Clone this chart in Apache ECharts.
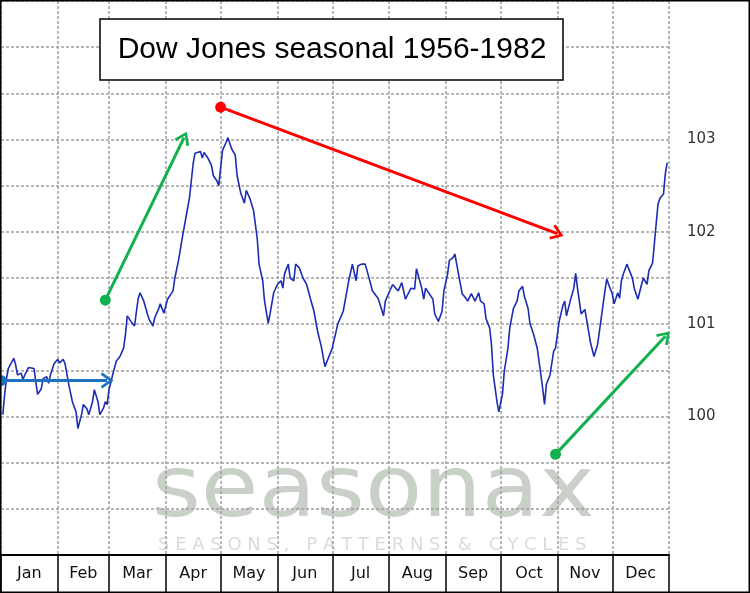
<!DOCTYPE html>
<html>
<head>
<meta charset="utf-8">
<script src="https://cdn.jsdelivr.net/npm/echarts@6/dist/echarts.min.js"></script>
<style>
  html, body { margin: 0; padding: 0; background: #fff; }
  #chart { width: 750px; height: 593px; }
</style>
</head>
<body>
<div id="chart"></div>
<script>
// month names and day-of-year boundaries
const months = ['Jan', 'Feb', 'Mar', 'Apr', 'May', 'Jun', 'Jul', 'Aug', 'Sep', 'Oct', 'Nov', 'Dec']
const monthStarts = [0, 31, 59, 90, 120, 151, 181, 212, 243, 273, 304, 334, 365]
const yLabels = [100, 101, 102, 103]

// seasonal curve (day of year, index value)
const days = [1, 2, 3, 4, 7, 8, 9, 11, 12, 13, 15, 16, 18, 19, 20, 22, 23, 25, 26, 27, 29, 31, 32, 34, 35, 37, 39, 41, 42, 44,
  45, 47, 48, 50, 51, 53, 54, 56, 57, 58, 59, 61, 63, 65, 67, 68, 69, 71, 73, 74, 75, 76, 78, 80, 81, 83, 84, 86, 87, 89,
  91, 94, 95, 97, 99, 101, 103, 105, 106, 107, 109, 110, 111, 113, 115, 116, 118, 119, 121, 123, 124, 126, 128, 129, 131, 133, 134, 136, 138, 140,
  141, 143, 144, 146, 147, 149, 151, 153, 154, 155, 157, 158, 160, 161, 163, 165, 167, 169, 171, 173, 175, 177, 181, 184, 187, 190, 192, 194, 195, 197,
  199, 200, 203, 206, 207, 209, 210, 212, 214, 217, 219, 221, 224, 226, 227, 230, 231, 232, 233, 236, 237, 239, 241, 242, 244, 245, 247, 248, 249, 250,
  252, 254, 255, 257, 259, 261, 262, 264, 265, 267, 268, 269, 271, 272, 274, 275, 277, 278, 280, 282, 283, 285, 286, 288, 289, 291, 293, 295, 296, 297,
  298, 300, 302, 303, 305, 307, 308, 309, 311, 313, 314, 315, 317, 319, 320, 322, 324, 325, 326, 328, 330, 331, 332, 334, 335, 337, 338, 339, 340, 342,
  343, 345, 346, 348, 350, 351, 353, 354, 356, 357, 358, 359, 360, 362, 363, 364]
const values = [100.02, 100.24, 100.41, 100.52, 100.63, 100.56, 100.45, 100.47, 100.40, 100.45, 100.53, 100.51, 100.52, 100.38, 100.24, 100.30, 100.41, 100.43, 100.36, 100.45, 100.57, 100.62, 100.58, 100.62, 100.57, 100.35, 100.16, 100.05, 99.87, 100.02,
  100.13, 100.08, 100.02, 100.16, 100.29, 100.16, 100.02, 100.09, 100.16, 100.13, 100.29, 100.45, 100.60, 100.65, 100.74, 100.89, 101.09, 101.03, 100.98, 101.14, 101.28, 101.34, 101.25, 101.11, 101.05, 100.98, 101.07, 101.16, 101.22, 101.12,
  101.27, 101.36, 101.50, 101.69, 101.93, 102.15, 102.37, 102.74, 102.85, 102.85, 102.87, 102.80, 102.86, 102.80, 102.72, 102.61, 102.55, 102.50, 102.88, 102.97, 103.02, 102.90, 102.83, 102.61, 102.42, 102.31, 102.45, 102.36, 102.23, 101.93,
  101.65, 101.47, 101.25, 101.01, 101.11, 101.34, 101.43, 101.47, 101.39, 101.55, 101.65, 101.50, 101.47, 101.65, 101.61, 101.50, 101.43, 101.28, 101.14, 100.92, 100.76, 100.54, 100.74, 101.00, 101.14, 101.47, 101.65, 101.47, 101.63, 101.65,
  101.65, 101.58, 101.36, 101.28, 101.22, 101.09, 101.25, 101.34, 101.43, 101.36, 101.45, 101.27, 101.39, 101.38, 101.60, 101.38, 101.27, 101.39, 101.38, 101.27, 101.11, 101.03, 101.14, 101.36, 101.54, 101.69, 101.72, 101.76, 101.65, 101.54,
  101.33, 101.28, 101.25, 101.33, 101.25, 101.34, 101.25, 101.22, 101.06, 100.96, 100.78, 100.45, 100.16, 100.05, 100.24, 100.49, 100.74, 100.96, 101.17, 101.25, 101.36, 101.41, 101.30, 101.17, 101.01, 100.89, 100.74, 100.45, 100.30, 100.13,
  100.35, 100.45, 100.71, 100.74, 101.03, 101.20, 101.25, 101.09, 101.25, 101.39, 101.55, 101.39, 101.11, 101.16, 101.05, 100.81, 100.65, 100.63, 100.78, 101.07, 101.36, 101.49, 101.43, 101.33, 101.22, 101.34, 101.28, 101.47, 101.54, 101.65,
  101.63, 101.50, 101.39, 101.27, 101.43, 101.50, 101.43, 101.58, 101.66, 101.87, 102.09, 102.30, 102.36, 102.41, 102.63, 102.75]

// annotation arrows: start [day, value], end [day, value], colour
const arrowStarts = [[0, 100.39], [57, 101.26], [120, 103.35], [303, 99.59]]
const arrowEnds = [[58, 100.39], [100, 103.02], [304, 101.98], [363, 100.87]]
const arrowColors = ['#1f72c0', '#12b04f', '#ff0000', '#12b04f']

const monthMids = months.map((m, i) => (monthStarts[i] + monthStarts[i + 1]) / 2)
const chevron = 'path://M-7,10 L0,0 L7,10 L5,11.5 L0,4 L-5,11.5 Z'

const chart = echarts.init(document.getElementById('chart'))

const option = {
  animation: false,
  backgroundColor: '#fff',
  grid: { left: 1, right: 81, top: 1, bottom: 38 },
  xAxis: {
    type: 'value',
    min: 0,
    max: 365,
    axisLine: { lineStyle: { color: '#000', width: 2 } },
    axisTick: {
      customValues: monthStarts,
      length: 37,
      lineStyle: { color: '#000', width: 1.5 },
    },
    axisLabel: {
      customValues: monthMids,
      formatter: (v) => months[monthMids.indexOf(v)] || '',
      margin: 11,
      color: '#111',
      fontSize: 16,
      fontFamily: 'DejaVu Sans',
    },
    splitLine: {
      show: true,
      lineStyle: { color: '#a0a0a0', width: 1.5, type: [3, 2] },
    },
  },
  yAxis: {
    type: 'value',
    position: 'right',
    min: 98.5,
    max: 104.5,
    interval: 0.5,
    axisLine: { show: false },
    axisTick: { show: false },
    axisLabel: {
      margin: 18,
      color: '#333',
      fontSize: 15,
      fontFamily: 'DejaVu Sans',
      formatter: (v) => (yLabels.indexOf(v) >= 0 ? String(v) : ''),
    },
    splitLine: {
      lineStyle: { color: '#a0a0a0', width: 1.5, type: [3, 2] },
    },
  },
  graphic: [
    {
      type: 'text',
      z: -10,
      x: 152,
      y: 494,
      scaleX: 0.83,
      scaleY: 0.76,
      style: {
        text: 'seasonax',
        fontSize: 113,
        fontFamily: 'DejaVu Sans',
        fill: '#c8d0c8',
        verticalAlign: 'middle',
      },
    },
    {
      type: 'text',
      z: -10,
      x: 158,
      y: 545,
      style: {
        text: 'S E A S O N S ,   P A T T E R N S   &   C Y C L E S',
        fontSize: 18,
        fontFamily: 'DejaVu Sans',
        fill: '#d8ddd8',
        verticalAlign: 'middle',
      },
    },
    {
      type: 'rect',
      z: 100,
      shape: { x: 100, y: 19, width: 463, height: 61 },
      style: { fill: '#fff', stroke: '#000', lineWidth: 1.5 },
    },
    {
      type: 'text',
      z: 101,
      x: 332,
      y: 50,
      style: {
        text: 'Dow Jones seasonal 1956-1982',
        fontSize: 30,
        fontFamily: 'Liberation Sans',
        fill: '#000',
        align: 'center',
        verticalAlign: 'middle',
      },
    },
    {
      type: 'rect',
      z: 100,
      shape: { x: 0.5, y: 0.5, width: 749, height: 592 },
      style: { fill: 'none', stroke: '#000', lineWidth: 2 },
    },
  ],
  series: [
    {
      type: 'line',
      data: days.map((d, i) => [d, values[i]]),
      showSymbol: false,
      lineStyle: { color: '#1d2cb4', width: 1.6 },
      z: 3,
      markLine: {
        silent: true,
        label: { show: false },
        data: arrowStarts.map((s, i) => [
          { coord: s, symbol: 'circle', symbolSize: 11, lineStyle: { color: arrowColors[i], width: 3, type: 'solid' }, itemStyle: { color: arrowColors[i] } },
          { coord: arrowEnds[i], symbol: chevron, symbolSize: [16, 13], itemStyle: { color: arrowColors[i] } },
        ]),
      },
    },
  ],
}

chart.setOption(option)
</script>
</body>
</html>
